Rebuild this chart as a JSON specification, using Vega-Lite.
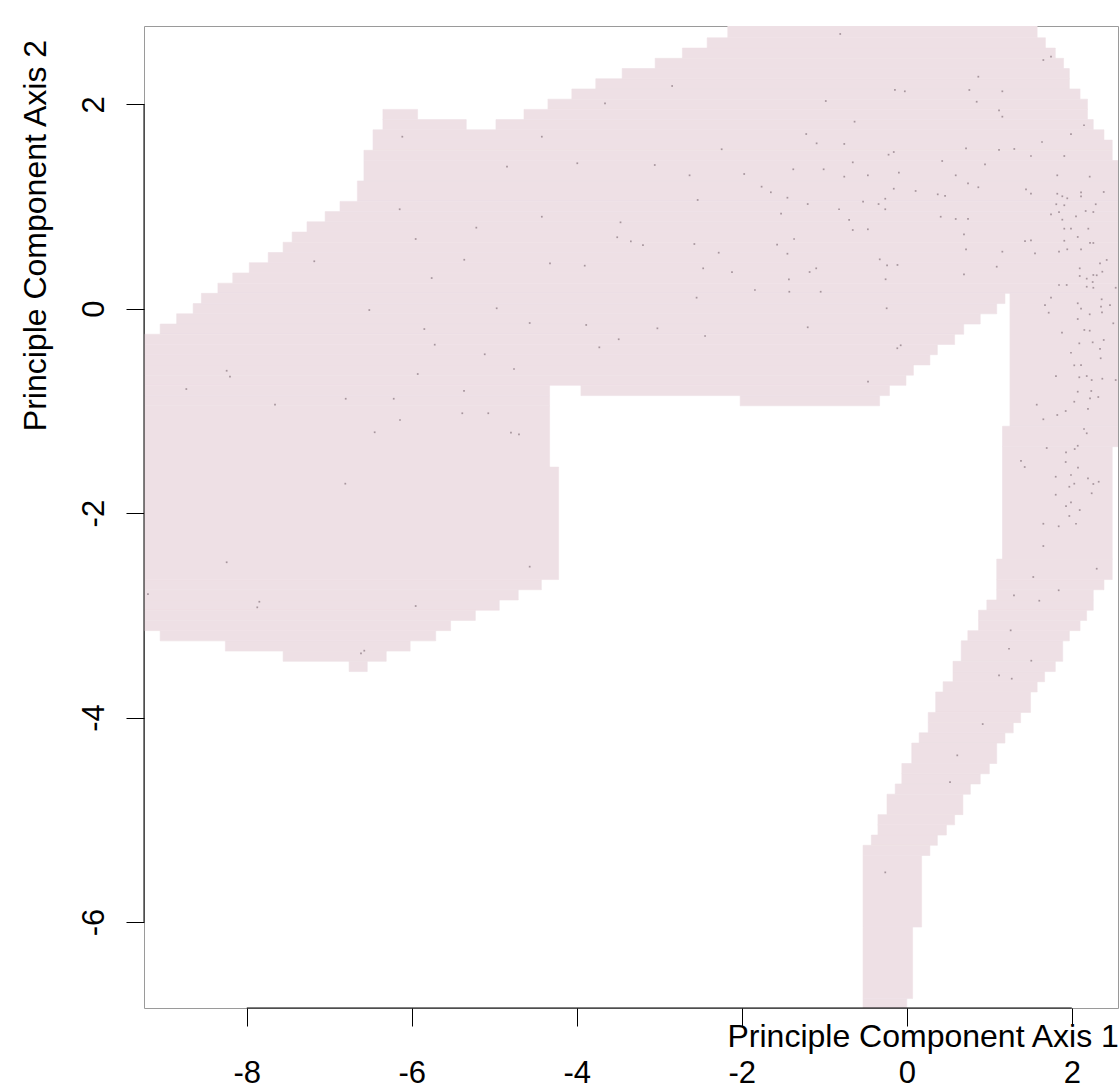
{
  "$schema": "https://vega.github.io/schema/vega-lite/v6.json",
  "width": 974,
  "height": 982,
  "autosize": {"type": "none"},
  "padding": {"left": 144, "top": 26, "right": 1, "bottom": 82},
  "background": "white",
  "config": {"view": {"stroke": "#9a9a9a", "strokeWidth": 1}, "font": "Liberation Sans"},
  "datasets": {
    "cells": [
      {"x1": -2.17, "x2": 1.58, "y1": 2.65, "y2": 2.85},
      {"x1": -2.42, "x2": 1.68, "y1": 2.55, "y2": 2.65},
      {"x1": -2.72, "x2": 1.80, "y1": 2.45, "y2": 2.55},
      {"x1": -3.05, "x2": 1.90, "y1": 2.35, "y2": 2.45},
      {"x1": -3.45, "x2": 1.97, "y1": 2.25, "y2": 2.35},
      {"x1": -3.77, "x2": 1.97, "y1": 2.15, "y2": 2.25},
      {"x1": -4.06, "x2": 2.10, "y1": 2.05, "y2": 2.15},
      {"x1": -4.35, "x2": 2.19, "y1": 1.95, "y2": 2.05},
      {"x1": -6.35, "x2": -5.93, "y1": 1.85, "y2": 1.95},
      {"x1": -4.64, "x2": 2.19, "y1": 1.85, "y2": 1.95},
      {"x1": -6.35, "x2": -5.34, "y1": 1.75, "y2": 1.85},
      {"x1": -4.98, "x2": 2.26, "y1": 1.75, "y2": 1.85},
      {"x1": -6.47, "x2": 2.39, "y1": 1.65, "y2": 1.75},
      {"x1": -6.47, "x2": 2.49, "y1": 1.55, "y2": 1.65},
      {"x1": -6.58, "x2": 2.49, "y1": 1.45, "y2": 1.55},
      {"x1": -6.58, "x2": 2.65, "y1": 1.25, "y2": 1.45},
      {"x1": -6.66, "x2": 2.65, "y1": 1.05, "y2": 1.25},
      {"x1": -6.87, "x2": 2.65, "y1": 0.95, "y2": 1.05},
      {"x1": -7.05, "x2": 2.65, "y1": 0.85, "y2": 0.95},
      {"x1": -7.27, "x2": 2.65, "y1": 0.75, "y2": 0.85},
      {"x1": -7.45, "x2": 2.65, "y1": 0.65, "y2": 0.75},
      {"x1": -7.56, "x2": 2.65, "y1": 0.55, "y2": 0.65},
      {"x1": -7.74, "x2": 2.65, "y1": 0.45, "y2": 0.55},
      {"x1": -7.97, "x2": 2.65, "y1": 0.35, "y2": 0.45},
      {"x1": -8.17, "x2": 2.65, "y1": 0.25, "y2": 0.35},
      {"x1": -8.35, "x2": 2.65, "y1": 0.15, "y2": 0.25},
      {"x1": -8.55, "x2": 1.19, "y1": 0.05, "y2": 0.15},
      {"x1": -8.65, "x2": 1.09, "y1": -0.05, "y2": 0.05},
      {"x1": -8.85, "x2": 0.89, "y1": -0.15, "y2": -0.05},
      {"x1": -9.05, "x2": 0.69, "y1": -0.25, "y2": -0.15},
      {"x1": -9.35, "x2": 0.58, "y1": -0.35, "y2": -0.25},
      {"x1": -9.35, "x2": 0.37, "y1": -0.45, "y2": -0.35},
      {"x1": -9.35, "x2": 0.28, "y1": -0.55, "y2": -0.45},
      {"x1": -9.35, "x2": 0.08, "y1": -0.65, "y2": -0.55},
      {"x1": -9.35, "x2": -0.01, "y1": -0.75, "y2": -0.65},
      {"x1": -9.35, "x2": -4.33, "y1": -0.85, "y2": -0.75},
      {"x1": -3.95, "x2": -0.21, "y1": -0.85, "y2": -0.75},
      {"x1": -9.35, "x2": -4.33, "y1": -0.95, "y2": -0.85},
      {"x1": -2.02, "x2": -0.33, "y1": -0.95, "y2": -0.85},
      {"x1": -9.35, "x2": -4.33, "y1": -1.55, "y2": -0.95},
      {"x1": -9.35, "x2": -4.22, "y1": -2.65, "y2": -1.55},
      {"x1": -9.35, "x2": -4.43, "y1": -2.75, "y2": -2.65},
      {"x1": -9.35, "x2": -4.71, "y1": -2.85, "y2": -2.75},
      {"x1": -9.35, "x2": -4.94, "y1": -2.95, "y2": -2.85},
      {"x1": -9.35, "x2": -5.23, "y1": -3.05, "y2": -2.95},
      {"x1": -9.35, "x2": -5.53, "y1": -3.15, "y2": -3.05},
      {"x1": -9.05, "x2": -5.71, "y1": -3.25, "y2": -3.15},
      {"x1": -8.26, "x2": -6.02, "y1": -3.35, "y2": -3.25},
      {"x1": -7.56, "x2": -6.31, "y1": -3.45, "y2": -3.35},
      {"x1": -6.76, "x2": -6.54, "y1": -3.55, "y2": -3.45},
      {"x1": 1.25, "x2": 2.65, "y1": -1.15, "y2": 0.15},
      {"x1": 1.16, "x2": 2.65, "y1": -1.35, "y2": -1.15},
      {"x1": 1.16, "x2": 2.49, "y1": -2.45, "y2": -1.35},
      {"x1": 1.09, "x2": 2.49, "y1": -2.65, "y2": -2.45},
      {"x1": 1.09, "x2": 2.39, "y1": -2.75, "y2": -2.65},
      {"x1": 1.09, "x2": 2.26, "y1": -2.85, "y2": -2.75},
      {"x1": 0.97, "x2": 2.26, "y1": -2.95, "y2": -2.85},
      {"x1": 0.87, "x2": 2.18, "y1": -3.05, "y2": -2.95},
      {"x1": 0.87, "x2": 2.10, "y1": -3.15, "y2": -3.05},
      {"x1": 0.74, "x2": 1.97, "y1": -3.25, "y2": -3.15},
      {"x1": 0.66, "x2": 1.89, "y1": -3.45, "y2": -3.25},
      {"x1": 0.56, "x2": 1.80, "y1": -3.55, "y2": -3.45},
      {"x1": 0.56, "x2": 1.67, "y1": -3.65, "y2": -3.55},
      {"x1": 0.44, "x2": 1.58, "y1": -3.75, "y2": -3.65},
      {"x1": 0.35, "x2": 1.50, "y1": -3.95, "y2": -3.75},
      {"x1": 0.26, "x2": 1.38, "y1": -4.05, "y2": -3.95},
      {"x1": 0.26, "x2": 1.29, "y1": -4.15, "y2": -4.05},
      {"x1": 0.15, "x2": 1.19, "y1": -4.25, "y2": -4.15},
      {"x1": 0.06, "x2": 1.09, "y1": -4.45, "y2": -4.25},
      {"x1": -0.06, "x2": 1.00, "y1": -4.55, "y2": -4.45},
      {"x1": -0.06, "x2": 0.89, "y1": -4.65, "y2": -4.55},
      {"x1": -0.14, "x2": 0.77, "y1": -4.75, "y2": -4.65},
      {"x1": -0.24, "x2": 0.68, "y1": -4.95, "y2": -4.75},
      {"x1": -0.35, "x2": 0.58, "y1": -5.05, "y2": -4.95},
      {"x1": -0.35, "x2": 0.48, "y1": -5.15, "y2": -5.05},
      {"x1": -0.43, "x2": 0.37, "y1": -5.25, "y2": -5.15},
      {"x1": -0.53, "x2": 0.28, "y1": -5.35, "y2": -5.25},
      {"x1": -0.53, "x2": 0.18, "y1": -6.05, "y2": -5.35},
      {"x1": -0.53, "x2": 0.07, "y1": -6.75, "y2": -6.05},
      {"x1": -0.53, "x2": 0.0, "y1": -6.95, "y2": -6.75}
    ],
    "pts": [
      {"x": 0.867, "y": 2.270}, {"x": 0.758, "y": 2.140}, {"x": 1.158, "y": 2.127}, {"x": 0.847, "y": 2.025},
      {"x": 1.118, "y": 1.941}, {"x": 1.158, "y": 1.879}, {"x": 1.655, "y": 2.433}, {"x": 1.748, "y": 2.466},
      {"x": 2.148, "y": 1.795}, {"x": 1.990, "y": 1.709}, {"x": 1.639, "y": 1.631}, {"x": 0.718, "y": 1.569},
      {"x": 1.118, "y": 1.553}, {"x": 1.303, "y": 1.563}, {"x": 1.505, "y": 1.494}, {"x": 1.909, "y": 1.494},
      {"x": 0.948, "y": 1.413}, {"x": 0.593, "y": 1.305}, {"x": 1.824, "y": 1.305}, {"x": 2.217, "y": 1.292},
      {"x": 0.742, "y": 1.227}, {"x": 0.867, "y": 1.188}, {"x": 1.445, "y": 1.168}, {"x": 1.505, "y": 1.125},
      {"x": 1.824, "y": 1.125}, {"x": 1.885, "y": 1.100}, {"x": 1.945, "y": 1.080}, {"x": 2.112, "y": 1.139},
      {"x": 2.112, "y": 1.100}, {"x": 2.387, "y": 1.142}, {"x": 1.812, "y": 1.022}, {"x": 1.909, "y": 1.012},
      {"x": 2.290, "y": 1.022}, {"x": 1.845, "y": 0.946}, {"x": 2.168, "y": 0.956}, {"x": 2.261, "y": 0.946},
      {"x": 1.748, "y": 0.924}, {"x": 2.051, "y": 0.904}, {"x": 0.593, "y": 0.878}, {"x": 0.742, "y": 0.878},
      {"x": 1.885, "y": 0.871}, {"x": 1.909, "y": 0.783}, {"x": 1.990, "y": 0.783}, {"x": 2.200, "y": 0.783},
      {"x": 0.693, "y": 0.728}, {"x": 2.072, "y": 0.702}, {"x": 1.433, "y": 0.662}, {"x": 1.505, "y": 0.669},
      {"x": 1.909, "y": 0.665}, {"x": 2.221, "y": 0.643}, {"x": 2.261, "y": 0.643}, {"x": 0.718, "y": 0.581},
      {"x": 1.158, "y": 0.558}, {"x": 1.554, "y": 0.542}, {"x": 1.845, "y": 0.558}, {"x": 1.945, "y": 0.581},
      {"x": 2.112, "y": 0.581}, {"x": 2.423, "y": 0.477}, {"x": 2.342, "y": 0.444}, {"x": 1.090, "y": 0.411},
      {"x": 0.693, "y": 0.337}, {"x": 2.096, "y": 0.395}, {"x": 2.096, "y": 0.320}, {"x": 2.261, "y": 0.330},
      {"x": 2.302, "y": 0.327}, {"x": 2.370, "y": 0.362}, {"x": 2.181, "y": 0.294}, {"x": 2.253, "y": 0.261},
      {"x": 1.845, "y": 0.232}, {"x": 1.938, "y": 0.232}, {"x": 2.181, "y": 0.215}, {"x": 2.261, "y": 0.205},
      {"x": 2.532, "y": 0.205}, {"x": 1.748, "y": 0.108}, {"x": 1.675, "y": 0.036}, {"x": 2.072, "y": 0.053},
      {"x": 2.362, "y": 0.092}, {"x": 2.463, "y": 0.036}, {"x": 2.112, "y": 0.0}, {"x": 2.354, "y": 0.020},
      {"x": 1.720, "y": -0.039}, {"x": 2.217, "y": -0.055}, {"x": 2.366, "y": -0.035}, {"x": 2.072, "y": -0.101},
      {"x": 2.503, "y": -0.143}, {"x": 1.881, "y": -0.235}, {"x": 2.152, "y": -0.208}, {"x": 2.217, "y": -0.215},
      {"x": 2.091, "y": -0.339}, {"x": 2.253, "y": -0.329}, {"x": 2.342, "y": -0.394}, {"x": 2.387, "y": -0.306},
      {"x": 1.990, "y": -0.431}, {"x": 2.350, "y": -0.485}, {"x": 2.030, "y": -0.554}, {"x": 2.112, "y": -0.551},
      {"x": 1.808, "y": -0.659}, {"x": 2.091, "y": -0.671}, {"x": 2.181, "y": -0.659}, {"x": 2.241, "y": -0.698},
      {"x": 2.370, "y": -0.685}, {"x": 2.532, "y": -0.698}, {"x": 2.072, "y": -0.812}, {"x": 2.236, "y": -0.805},
      {"x": 2.221, "y": -0.877}, {"x": 2.321, "y": -0.864}, {"x": 2.030, "y": -0.910}, {"x": 1.575, "y": -0.939},
      {"x": 1.926, "y": -1.001}, {"x": 1.824, "y": -1.040}, {"x": 2.196, "y": -0.981}, {"x": 1.655, "y": -1.082},
      {"x": 2.148, "y": -1.177}, {"x": 2.181, "y": -1.219}, {"x": 1.696, "y": -1.363}, {"x": 1.930, "y": -1.405},
      {"x": 2.072, "y": -1.341}, {"x": 2.035, "y": -1.373}, {"x": 1.926, "y": -1.500}, {"x": 1.384, "y": -1.490},
      {"x": 1.429, "y": -1.549}, {"x": 2.075, "y": -1.556}, {"x": 1.805, "y": -1.644}, {"x": 1.990, "y": -1.627},
      {"x": 2.196, "y": -1.660}, {"x": 2.326, "y": -1.693}, {"x": 2.030, "y": -1.712}, {"x": 1.970, "y": -1.742},
      {"x": 2.261, "y": -1.715}, {"x": 1.805, "y": -1.820}, {"x": 2.241, "y": -1.806}, {"x": 1.990, "y": -1.894},
      {"x": 1.930, "y": -1.931}, {"x": 2.096, "y": -1.970}, {"x": 1.970, "y": -2.028}, {"x": 1.655, "y": -2.104},
      {"x": 1.841, "y": -2.129}, {"x": 2.051, "y": -2.104}, {"x": 1.655, "y": -2.322}, {"x": 2.302, "y": -2.544},
      {"x": 1.533, "y": -2.625}, {"x": 1.841, "y": -2.755}, {"x": 1.299, "y": -2.804}, {"x": 1.606, "y": -2.857},
      {"x": 1.259, "y": -3.147}, {"x": 1.239, "y": -3.327}, {"x": 1.509, "y": -3.444}, {"x": 1.118, "y": -3.587},
      {"x": 1.272, "y": -3.620}, {"x": -0.470, "y": -0.714}, {"x": -0.115, "y": -0.387}, {"x": -0.074, "y": -0.358},
      {"x": -0.244, "y": 0.004}, {"x": 0.920, "y": -4.064}, {"x": 0.612, "y": -4.370}, {"x": 0.524, "y": -4.631},
      {"x": -0.261, "y": -5.515},
      {"x": -0.807, "y": 2.688}, {"x": -2.844, "y": 2.179}, {"x": -3.658, "y": 2.010}, {"x": -4.424, "y": 1.683},
      {"x": -0.982, "y": 2.032}, {"x": -0.633, "y": 1.830}, {"x": -0.144, "y": 2.140}, {"x": -0.024, "y": 2.127},
      {"x": -1.219, "y": 1.709}, {"x": -1.093, "y": 1.618}, {"x": -0.758, "y": 1.612}, {"x": -2.244, "y": 1.560},
      {"x": -3.994, "y": 1.423}, {"x": -3.055, "y": 1.406}, {"x": -2.633, "y": 1.305}, {"x": -1.971, "y": 1.318},
      {"x": -1.376, "y": 1.364}, {"x": -1.008, "y": 1.364}, {"x": -0.655, "y": 1.432}, {"x": -0.221, "y": 1.507},
      {"x": -0.158, "y": 1.533}, {"x": -0.758, "y": 1.292}, {"x": -0.472, "y": 1.305}, {"x": -0.096, "y": 1.331},
      {"x": 0.429, "y": 1.445}, {"x": -1.760, "y": 1.194}, {"x": -1.648, "y": 1.139}, {"x": -1.447, "y": 1.086},
      {"x": -1.201, "y": 1.024}, {"x": -0.821, "y": 0.973}, {"x": -0.530, "y": 1.047}, {"x": -0.342, "y": 1.024},
      {"x": -0.261, "y": 1.076}, {"x": -0.158, "y": 1.174}, {"x": 0.107, "y": 1.152}, {"x": 0.375, "y": 1.119},
      {"x": 0.464, "y": 1.103}, {"x": -2.535, "y": 1.064}, {"x": -4.424, "y": 0.900}, {"x": -3.470, "y": 0.845},
      {"x": -1.524, "y": 0.930}, {"x": -0.699, "y": 0.868}, {"x": -0.655, "y": 0.770}, {"x": -0.472, "y": 0.777},
      {"x": -0.261, "y": 0.973}, {"x": 0.411, "y": 0.900}, {"x": -3.510, "y": 0.699}, {"x": -3.345, "y": 0.659},
      {"x": -3.198, "y": 0.623}, {"x": -2.575, "y": 0.633}, {"x": -2.280, "y": 0.548}, {"x": -1.572, "y": 0.626},
      {"x": -1.447, "y": 0.538}, {"x": -1.366, "y": 0.682}, {"x": -4.325, "y": 0.444}, {"x": -3.904, "y": 0.421},
      {"x": -2.468, "y": 0.395}, {"x": -2.119, "y": 0.359}, {"x": -1.178, "y": 0.359}, {"x": -1.098, "y": 0.395},
      {"x": -1.429, "y": 0.288}, {"x": -1.841, "y": 0.183}, {"x": -1.424, "y": 0.166}, {"x": -1.044, "y": 0.166},
      {"x": -0.328, "y": 0.483}, {"x": -0.239, "y": 0.425}, {"x": -0.113, "y": 0.428}, {"x": -0.257, "y": 0.288},
      {"x": -2.548, "y": 0.108}, {"x": -3.886, "y": -0.159}, {"x": -3.023, "y": -0.192}, {"x": -1.201, "y": -0.182},
      {"x": -2.445, "y": -0.267}, {"x": -3.492, "y": -0.299},
      {"x": -6.115, "y": 1.683}, {"x": -4.846, "y": 1.389}, {"x": -6.147, "y": 0.973}, {"x": -5.218, "y": 0.793},
      {"x": -5.953, "y": 0.682}, {"x": -7.182, "y": 0.464}, {"x": -5.364, "y": 0.479}, {"x": -5.759, "y": 0.300},
      {"x": -6.515, "y": -0.013}, {"x": -4.971, "y": 0.004}, {"x": -4.571, "y": -0.140}, {"x": -5.848, "y": -0.199},
      {"x": -5.722, "y": -0.352}, {"x": -5.116, "y": -0.446}, {"x": -4.761, "y": -0.590}, {"x": -5.928, "y": -0.639},
      {"x": -8.244, "y": -0.607}, {"x": -8.204, "y": -0.665}, {"x": -8.733, "y": -0.786}, {"x": -7.658, "y": -0.939},
      {"x": -6.801, "y": -0.881}, {"x": -6.219, "y": -0.881}, {"x": -5.367, "y": -0.805}, {"x": -6.143, "y": -1.089},
      {"x": -6.450, "y": -1.209}, {"x": -5.388, "y": -1.023}, {"x": -5.073, "y": -1.023}, {"x": -4.798, "y": -1.213},
      {"x": -4.701, "y": -1.229}, {"x": -3.727, "y": -0.378}, {"x": -6.806, "y": -1.712}, {"x": -8.244, "y": -2.481},
      {"x": -4.571, "y": -2.524}, {"x": -9.198, "y": -2.792}, {"x": -7.848, "y": -2.867}, {"x": -7.873, "y": -2.922},
      {"x": -5.953, "y": -2.909}, {"x": -6.616, "y": -3.372}, {"x": -6.576, "y": -3.346}
    ],
    "xaxisline": [{"xa": -8, "xb": 2, "yy": -6.842}],
    "yaxisline": [{"xx": -9.246, "ya": -6, "yb": 2}]
  },
  "layer": [
    {
      "data": {"name": "cells"},
      "mark": {"type": "rect", "clip": true, "color": "#EEE0E5", "stroke": "#EEE0E5", "strokeWidth": 0.6},
      "encoding": {
        "x": {
          "field": "x1", "type": "quantitative",
          "scale": {"domain": [-9.246, 2.56], "nice": false, "zero": false},
          "axis": {
            "values": [-8, -6, -4, -2, 0, 2],
            "domain": false, "grid": false,
            "ticks": true, "tickSize": 18, "tickColor": "black", "tickWidth": 1,
            "labelExpr": "datum.value < 0 ? '-' + abs(datum.value) : '' + datum.value",
            "labelFont": "Liberation Sans", "labelFontSize": 31, "labelColor": "black",
            "labelBaseline": "alphabetic", "labelPadding": 56, "labelFlush": false, "labelOverlap": false,
            "title": "Principle Component Axis 1",
            "titleFont": "Liberation Sans", "titleFontSize": 32, "titleFontWeight": "normal", "titleColor": "black",
            "titleAlign": "left", "titleBaseline": "alphabetic", "titleX": 583, "titleY": 38
          }
        },
        "x2": {"field": "x2"},
        "y": {
          "field": "y1", "type": "quantitative",
          "scale": {"domain": [-6.842, 2.766], "nice": false, "zero": false},
          "axis": {
            "values": [-6, -4, -2, 0, 2],
            "domain": false, "grid": false,
            "ticks": true, "tickSize": 18, "tickColor": "black", "tickWidth": 1,
            "labelExpr": "datum.value < 0 ? '-' + abs(datum.value) : '' + datum.value",
            "labelFont": "Liberation Sans", "labelFontSize": 31, "labelColor": "black",
            "labelAngle": 270, "labelAlign": "center", "labelBaseline": "alphabetic",
            "labelPadding": 23, "labelFlush": false, "labelOverlap": false,
            "title": "Principle Component Axis 2",
            "titleFont": "Liberation Sans", "titleFontSize": 32, "titleFontWeight": "normal", "titleColor": "black",
            "titleAngle": 270, "titleAlign": "center", "titleBaseline": "alphabetic", "titleX": -98.5, "titleY": 209
          }
        },
        "y2": {"field": "y2"}
      }
    },
    {
      "data": {"name": "pts"},
      "mark": {"type": "square", "size": 3, "color": "#9a8890", "opacity": 0.85, "clip": true},
      "encoding": {
        "x": {"field": "x", "type": "quantitative"},
        "y": {"field": "y", "type": "quantitative"}
      }
    },
    {
      "data": {"name": "xaxisline"},
      "mark": {"type": "rule", "color": "black", "strokeWidth": 1},
      "encoding": {
        "x": {"field": "xa", "type": "quantitative"},
        "x2": {"field": "xb"},
        "y": {"field": "yy", "type": "quantitative"}
      }
    },
    {
      "data": {"name": "yaxisline"},
      "mark": {"type": "rule", "color": "black", "strokeWidth": 1},
      "encoding": {
        "x": {"field": "xx", "type": "quantitative"},
        "y": {"field": "ya", "type": "quantitative"},
        "y2": {"field": "yb"}
      }
    }
  ]
}
